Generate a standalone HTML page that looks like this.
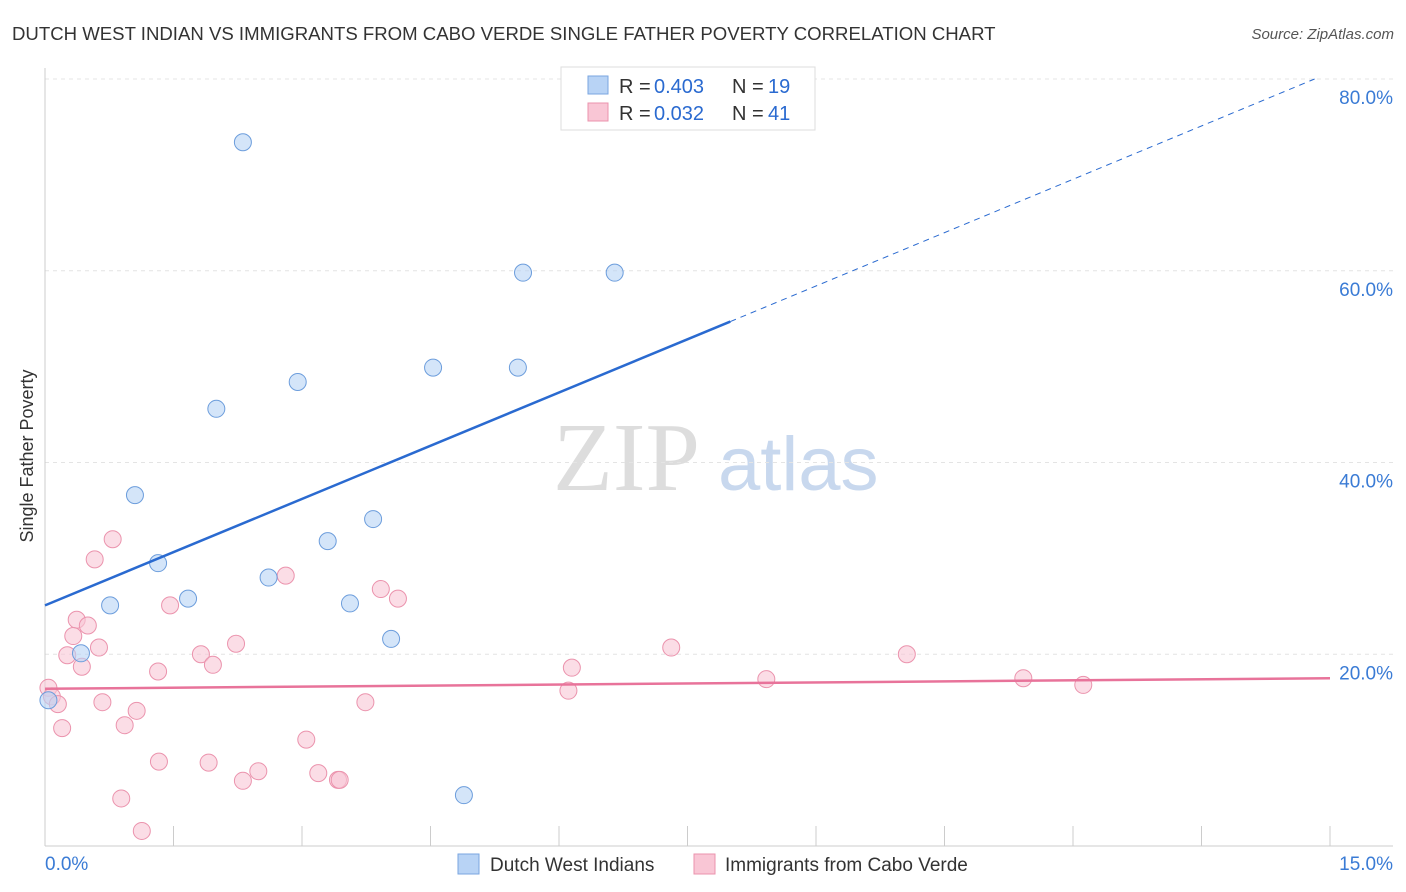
<!DOCTYPE html>
<html><head><meta charset="utf-8"><style>
body{margin:0;background:#fff;font-family:"Liberation Sans",sans-serif;}
#wrap{position:relative;width:1406px;height:892px;overflow:hidden}
</style></head><body>
<div id="wrap">
<svg id="chart" width="1406" height="892" xmlns="http://www.w3.org/2000/svg">
<text x="12" y="40" font-size="18.6" fill="#333">DUTCH WEST INDIAN VS IMMIGRANTS FROM CABO VERDE SINGLE FATHER POVERTY CORRELATION CHART</text>
<text x="1394" y="39" font-size="15" fill="#555" font-style="italic" text-anchor="end">Source: ZipAtlas.com</text>
<text x="33" y="456" font-size="18" fill="#333" text-anchor="middle" transform="rotate(-90 33 456)">Single Father Poverty</text>
<text x="553" y="490" font-size="98" fill="#ddd" font-family="Liberation Serif,serif">ZIP</text>
<text x="718" y="490" font-size="76" fill="#c8d8ee">atlas</text>
<g id="grid"></g><g id="marks"></g>
<g>
<rect x="561" y="67" width="254" height="63" fill="#fff" stroke="#ddd"/>
<rect x="588" y="76" width="20" height="18" fill="#b8d3f5" stroke="#7aa6e0"/>
<rect x="588" y="103" width="20" height="18" fill="#f9c6d5" stroke="#eb93ad"/>
<text x="619" y="93" font-size="20" fill="#333">R =</text><text x="654" y="93" font-size="20" fill="#2a6ad0">0.403</text>
<text x="732" y="93" font-size="20" fill="#333">N =</text><text x="768" y="93" font-size="20" fill="#2a6ad0">19</text>
<text x="619" y="120" font-size="20" fill="#333">R =</text><text x="654" y="120" font-size="20" fill="#2a6ad0">0.032</text>
<text x="732" y="120" font-size="20" fill="#333">N =</text><text x="768" y="120" font-size="20" fill="#2a6ad0">41</text>
</g>
<g>
<rect x="458" y="854" width="21" height="20" fill="#b8d3f5" stroke="#7aa6e0"/>
<text x="490" y="871" font-size="19" fill="#333">Dutch West Indians</text>
<rect x="694" y="854" width="21" height="20" fill="#f9c6d5" stroke="#eb93ad"/>
<text x="725" y="871" font-size="19" fill="#333">Immigrants from Cabo Verde</text>
</g>
</svg></div>
<script>
const xTicks=[0,1.5,3,4.5,6,7.5,9,10.5,12,13.5,15];
const yTicks=[20,40,60,80];
const blueX=[2.31,5.58,6.65,2.95,4.53,5.52,2.0,1.05,3.83,3.30,1.32,2.61,1.67,0.76,3.56,4.04,0.42,4.89,0.04];
const blueY=[73.4,59.8,59.8,48.4,49.9,49.9,45.6,36.6,34.1,31.8,29.5,28.0,25.8,25.1,25.3,21.6,20.1,5.3,15.2];
const pinkX=[0.79,0.58,2.81,3.92,4.12,1.46,0.37,0.50,0.33,0.63,2.23,0.26,1.82,7.31,0.43,1.96,6.15,1.32,10.06,8.42,11.42,12.12,6.11,0.04,0.08,0.67,3.74,0.15,1.07,0.93,0.20,3.05,1.33,1.91,2.49,3.19,2.31,3.42,3.44,0.89,1.13];
const pinkY=[32.0,29.9,28.2,26.8,25.8,25.1,23.6,23.0,21.9,20.7,21.1,19.9,20.0,20.7,18.7,18.9,18.6,18.2,20.0,17.4,17.5,16.8,16.2,16.5,15.6,15.0,15.0,14.8,14.1,12.6,12.3,11.1,8.8,8.7,7.8,7.6,6.8,6.9,6.9,4.96,1.57];
const blueLine=[[0,25.1],[8.0,54.7],[14.82,80]];
const pinkLine=[[0,16.4],[15,17.5]];
const NS="http://www.w3.org/2000/svg";
const X=v=>45+v*(1285/15), Y=v=>846-v*9.5875;
function mk(t,a,p){const e=document.createElementNS(NS,t);for(const k in a)e.setAttribute(k,a[k]);p.appendChild(e);return e;}
const g=document.getElementById('grid'),m=document.getElementById('marks');
yTicks.forEach(t=>{const l=mk('line',{x1:45,x2:1393,y1:Y(t),y2:Y(t),stroke:'#e4e4e4','stroke-dasharray':'4,4'},g);


const tx=mk('text',{x:1393,y:Y(t)+25,'font-size':19,fill:'#3a7bd5','text-anchor':'end'},g);tx.textContent=t.toFixed(1)+'%';

});
const ax=mk('line',{x1:45,x2:1393,y1:846,y2:846,stroke:'#ccc'},g);


const ay=mk('line',{x1:45,x2:45,y1:68,y2:846,stroke:'#ccc'},g);


xTicks.forEach(t=>{const l=mk('line',{x1:X(t),x2:X(t),y1:826,y2:846,stroke:'#ccc'},g);

});
[[0,'start'],[15,'end']].forEach(([t,a])=>{const tx=mk('text',{x:t?1393:45,y:870,'font-size':19,fill:'#3a7bd5','text-anchor':a},g);tx.textContent=t.toFixed(1)+'%';

});
function dots(xs,ys,fill,stroke,name){xs.forEach((x,i)=>{const c=mk('circle',{cx:X(x),cy:Y(ys[i]),r:8.5,fill:fill,'fill-opacity':0.6,stroke:stroke,'stroke-width':1},m);

});}
dots(pinkX,pinkY,'#f9c6d5','#eb93ad','pink-point');
dots(blueX,blueY,'#b8d3f5','#6c9ddc','blue-point');
const b1=mk('line',{x1:X(blueLine[0][0]),y1:Y(blueLine[0][1]),x2:X(blueLine[1][0]),y2:Y(blueLine[1][1]),stroke:'#2a6ad0','stroke-width':2.5},m);


const b2=mk('line',{x1:X(blueLine[1][0]),y1:Y(blueLine[1][1]),x2:X(blueLine[2][0]),y2:Y(blueLine[2][1]),stroke:'#2a6ad0','stroke-width':1,'stroke-dasharray':'6,5'},m);


const p1=mk('line',{x1:X(pinkLine[0][0]),y1:Y(pinkLine[0][1]),x2:X(pinkLine[1][0]),y2:Y(pinkLine[1][1]),stroke:'#e8739a','stroke-width':2.5},m);


</script>
</body></html>
